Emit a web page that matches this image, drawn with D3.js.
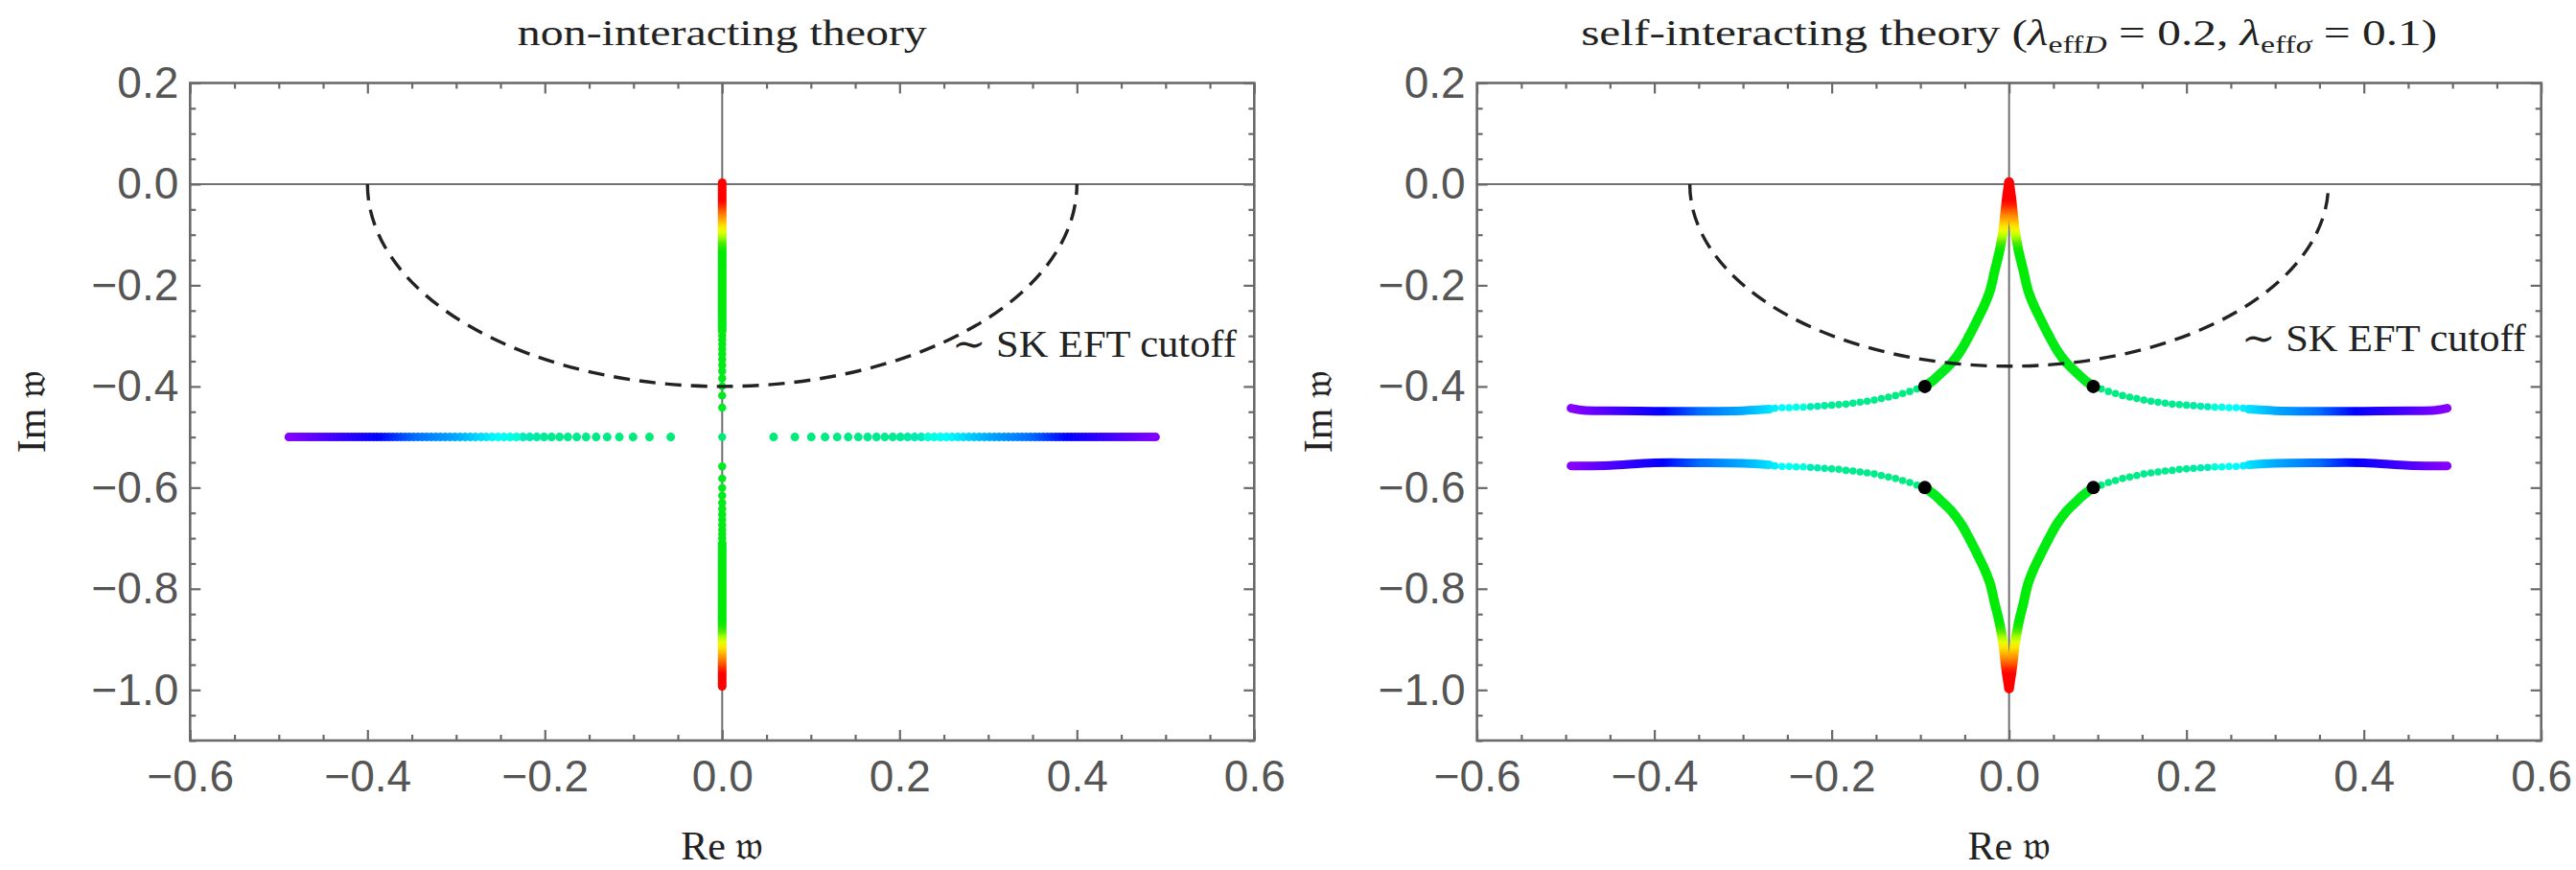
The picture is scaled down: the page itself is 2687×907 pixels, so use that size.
<!DOCTYPE html>
<html><head><meta charset="utf-8">
<script src="https://cdn.jsdelivr.net/npm/d3@7"></script>
<style>body{margin:0;background:#fff;} svg{display:block;}</style>
</head><body>
<svg id="chart" width="2687" height="907"></svg>
<script>
// ---------------- DATA ----------------
const xMajorTicks = [-0.6, -0.4, -0.2, 0.0, 0.2, 0.4, 0.6];
const yMajorTicks = [0.2, 0.0, -0.2, -0.4, -0.6, -0.8, -1.0];
const panelTitles = ["non-interacting theory", "self-interacting theory"];
const couplingValues = [0.2, 0.1];
const couplingSubscripts = ["D", "σ"];
const cutoffRadius = [0.40, 0.36];
const cutoffLabel = "∼ SK EFT cutoff";
const cutoffLabelRe = [0.259, 0.262];
const cutoffLabelIm = [-0.341, -0.33];

// non-interacting: modes on the line Im = -0.5 (Re >= 0 half, mirrored)
const freeRowIm = -0.5;
const freeRowRe = [0.058,0.082,0.1005,0.116,0.1297,0.1421,0.1535,0.1640,0.174,0.1834,0.1924,0.2009,0.2091,0.2170,0.2246,0.232,0.2391,0.2461,0.2528,0.2594,0.2658,0.2720,0.2782,0.2841,0.29,0.2957,0.3014,0.3069,0.3123,0.3177,0.3229,0.3281,0.3332,0.3382,0.3431,0.348,0.3528,0.3575,0.3622,0.3668,0.3714,0.3759,0.3803,0.3847,0.3891,0.3934,0.3976,0.4018,0.406,0.4101,0.4142,0.4182,0.4222,0.4262,0.4301,0.4340,0.4379,0.4417,0.4455,0.4493,0.4530,0.4567,0.4604,0.464,0.4676,0.4712,0.4748,0.4783,0.4818,0.4853,0.4887];
// non-interacting: purely imaginary modes (Re = 0)
const freeAxisDotsIm = [-0.2996,-0.308,-0.3165,-0.326,-0.336,-0.3465,-0.358,-0.370,-0.384,-0.3995,-0.418,-0.442,-0.5,-0.558,-0.582,-0.6005,-0.616,-0.630,-0.642,-0.6535,-0.664,-0.674,-0.6835,-0.692,-0.7004];
const freeAxisUpperIm = [0.003, -0.29];
const freeAxisLowerIm = [-0.71, -0.993];

// self-interacting: branches (Re >= 0 half, mirrored)
const siCuspRe = [0, 0.002, 0.004, 0.0065, 0.011, 0.016, 0.0214, 0.028, 0.036, 0.045, 0.054, 0.064, 0.075, 0.085, 0.095];
const siUpperCuspIm = [0.004, -0.02, -0.05, -0.09, -0.134, -0.17, -0.21, -0.24, -0.269, -0.30, -0.328, -0.352, -0.371, -0.387, -0.400];
const siLowerCuspIm = [-0.997, -0.975, -0.95, -0.91, -0.866, -0.83, -0.79, -0.76, -0.731, -0.70, -0.672, -0.648, -0.629, -0.613, -0.600];
const siTailDotRe = [0.104,0.112,0.120,0.128,0.136,0.144,0.152,0.160,0.168,0.176,0.184,0.192,0.200,0.208,0.216,0.224,0.232,0.240,0.248,0.256,0.264];
const siUpperTailDotIm = [-0.405,-0.410,-0.414,-0.418,-0.421,-0.424,-0.427,-0.429,-0.431,-0.433,-0.435,-0.436,-0.437,-0.438,-0.439,-0.440,-0.441,-0.441,-0.442,-0.442,-0.443];
const siLowerTailDotIm = [-0.595,-0.590,-0.586,-0.582,-0.579,-0.576,-0.573,-0.571,-0.569,-0.567,-0.566,-0.564,-0.563,-0.562,-0.561,-0.560,-0.559,-0.559,-0.558,-0.558,-0.557];
const siTailRe = [0.27, 0.30, 0.35, 0.40, 0.45, 0.48, 0.494];
const siUpperTailIm = [-0.445, -0.448, -0.449, -0.449, -0.448, -0.447, -0.443];
const siLowerTailIm = [-0.555, -0.552, -0.551, -0.551, -0.556, -0.557, -0.557];
// self-interacting: marked points
const siMarkRe = [-0.095, 0.095, -0.095, 0.095];
const siMarkIm = [-0.40, -0.40, -0.60, -0.60];

// ---------------- LAYOUT ----------------
const panelX = [[198.3, 1308.3], [1540.6, 2650.7]];
const plotTop = 86.5, plotBottom = 772;
const frameColor = "#6a6a6a";
const serif = "'Liberation Serif','DejaVu Serif',serif";
const sans = "'Liberation Sans',Arial,sans-serif";

const svg = d3.select("#chart");
svg.append("rect").attr("width", 2687).attr("height", 907).attr("fill", "#fff");
const defs = svg.append("defs");

const hueIm = d3.scaleLinear().domain([0, 0.06, 0.37, 0.41, 0.44, 0.465, 0.5]).range([150, 128, 120, 60, 30, 0, 0]).clamp(true);
const hueRe = d3.scaleLinear().domain([0, 0.06, 0.2, 0.25, 0.3, 0.35, 0.39, 0.45, 0.494]).range([150, 150, 158, 178, 200, 215, 240, 258, 272]).clamp(true);
const lightFor = h => (h > 90 && h < 170) ? 0.46 : 0.5;
const colIm = im => { const h = hueIm(Math.abs(im + 0.5)); return d3.hsl(h, 1, lightFor(h)).formatHex(); };
const colRe = re => { const h = hueRe(Math.abs(re)); return d3.hsl(h, 1, lightFor(h)).formatHex(); };

const y = d3.scaleLinear().domain([-1.1, 0.2]).range([plotBottom, plotTop]);

// gradient along Im
const gIm = defs.append("linearGradient").attr("id", "gIm").attr("gradientUnits", "userSpaceOnUse")
  .attr("x1", 0).attr("x2", 0).attr("y1", y(0.02)).attr("y2", y(-1.02));
d3.range(0, 101).forEach(i => {
  const im = 0.02 - i * 1.04 / 100;
  gIm.append("stop").attr("offset", i / 100).attr("stop-color", colIm(im));
});

function minorTicks(lo, hi) { return d3.range(Math.round(lo * 20), Math.round(hi * 20) + 1).map(v => v / 20); }
const fmt = d3.format(".1f");

function drawPanel(i) {
  const x = d3.scaleLinear().domain([-0.6, 0.6]).range(panelX[i]);
  const [L, R] = panelX[i];
  const g = svg.append("g");
  const line = d3.line().x(d => x(d[0])).y(d => y(d[1])).curve(d3.curveCatmullRom);

  // tail gradients per side
  [-1, 1].forEach(s => {
    const gr = defs.append("linearGradient").attr("id", `gRe${i}${s > 0 ? "p" : "m"}`).attr("gradientUnits", "userSpaceOnUse")
      .attr("x1", x(0)).attr("x2", x(s * 0.5)).attr("y1", 0).attr("y2", 0);
    d3.range(0, 51).forEach(k => gr.append("stop").attr("offset", k / 50).attr("stop-color", colRe(0.5 * k / 50)));
  });

  // zero lines
  g.append("line").attr("x1", x(0)).attr("x2", x(0)).attr("y1", plotTop).attr("y2", plotBottom)
    .attr("stroke", "#707070").attr("stroke-width", 2);
  g.append("line").attr("x1", L).attr("x2", R).attr("y1", y(0)).attr("y2", y(0))
    .attr("stroke", "#707070").attr("stroke-width", 2);

  const data = g.append("g");
  if (i === 0) {
    [freeAxisUpperIm, freeAxisLowerIm].forEach(seg => {
      data.append("path").attr("d", line(seg.map(v => [0, v]))).attr("fill", "none")
        .attr("stroke", "url(#gIm)").attr("stroke-width", 9).attr("stroke-linecap", "round");
    });
    data.selectAll(null).data(freeAxisDotsIm).join("circle")
      .attr("cx", x(0)).attr("cy", d => y(d)).attr("r", 4.2).attr("fill", d => colIm(d));
    [-1, 1].forEach(s => {
      data.selectAll(null).data(freeRowRe).join("circle")
        .attr("cx", d => x(s * d)).attr("cy", y(freeRowIm)).attr("r", 4.5).attr("fill", d => colRe(d));
    });
  } else {
    [-1, 1].forEach(s => {
      [siUpperCuspIm, siLowerCuspIm].forEach(ims => {
        data.append("path").attr("d", line(siCuspRe.map((r, k) => [s * r, ims[k]]))).attr("fill", "none")
          .attr("stroke", "url(#gIm)").attr("stroke-width", 10).attr("stroke-linecap", "round");
      });
      [siUpperTailDotIm, siLowerTailDotIm].forEach(ims => {
        data.selectAll(null).data(siTailDotRe).join("circle")
          .attr("cx", d => x(s * d)).attr("cy", (d, k) => y(ims[k])).attr("r", 3.8).attr("fill", d => colRe(d));
      });
      [siUpperTailIm, siLowerTailIm].forEach(ims => {
        data.append("path").attr("d", line(siTailRe.map((r, k) => [s * r, ims[k]]))).attr("fill", "none")
          .attr("stroke", `url(#gRe${i}${s > 0 ? "p" : "m"})`).attr("stroke-width", 9).attr("stroke-linecap", "round");
      });
    });
  }

  // cutoff semicircle (|w| = radius)
  const r = cutoffRadius[i];
  const rx = x(r) - x(0), ry = y(-r) - y(0);
  g.append("path").attr("d", `M${x(-r)},${y(0)} A${rx},${ry} 0 0 0 ${x(r)},${y(0)}`)
    .attr("fill", "none").attr("stroke", "#222").attr("stroke-width", 3.4).attr("stroke-dasharray", "17 10");
  g.append("text").attr("x", x(cutoffLabelRe[i])).attr("y", y(cutoffLabelIm[i]))
    .attr("font-family", serif).attr("font-size", 40).attr("fill", "#222")
    .attr("textLength", 297).attr("lengthAdjust", "spacingAndGlyphs").text(cutoffLabel);

  if (i === 1) {
    g.selectAll(null).data(siMarkRe).join("circle")
      .attr("cx", d => x(d)).attr("cy", (d, k) => y(siMarkIm[k])).attr("r", 7).attr("fill", "#000");
  }

  // frame
  g.append("rect").attr("x", L).attr("y", plotTop).attr("width", R - L).attr("height", plotBottom - plotTop)
    .attr("fill", "none").attr("stroke", frameColor).attr("stroke-width", 2.6);

  const minorX = minorTicks(-0.6, 0.6).filter(v => !xMajorTicks.some(m => Math.abs(m - v) < 1e-6));
  const minorY = minorTicks(-1.1, 0.2).filter(v => !yMajorTicks.some(m => Math.abs(m - v) < 1e-6));
  const styleAxis = sel => {
    sel.select(".domain").remove();
    sel.selectAll("line").attr("stroke", frameColor).attr("stroke-width", 2.2);
    sel.selectAll("text").attr("fill", "#555").attr("font-family", sans).attr("font-size", 46);
  };
  g.append("g").attr("transform", `translate(0,${plotBottom})`)
    .call(d3.axisBottom(x).tickValues(xMajorTicks).tickSize(-11).tickPadding(20).tickFormat(fmt)).call(styleAxis);
  g.append("g").attr("transform", `translate(0,${plotBottom})`)
    .call(d3.axisBottom(x).tickValues(minorX).tickSize(-6).tickFormat("")).call(styleAxis);
  g.append("g").attr("transform", `translate(0,${plotTop})`)
    .call(d3.axisTop(x).tickValues(xMajorTicks).tickSize(-11).tickFormat("")).call(styleAxis);
  g.append("g").attr("transform", `translate(0,${plotTop})`)
    .call(d3.axisTop(x).tickValues(minorX).tickSize(-6).tickFormat("")).call(styleAxis);
  g.append("g").attr("transform", `translate(${L},0)`)
    .call(d3.axisLeft(y).tickValues(yMajorTicks).tickSize(-11).tickPadding(12).tickFormat(fmt)).call(styleAxis);
  g.append("g").attr("transform", `translate(${L},0)`)
    .call(d3.axisLeft(y).tickValues(minorY).tickSize(-6).tickFormat("")).call(styleAxis);
  g.append("g").attr("transform", `translate(${R},0)`)
    .call(d3.axisRight(y).tickValues(yMajorTicks).tickSize(-11).tickFormat("")).call(styleAxis);
  g.append("g").attr("transform", `translate(${R},0)`)
    .call(d3.axisRight(y).tickValues(minorY).tickSize(-6).tickFormat("")).call(styleAxis);

  // axis labels
  const cx = (L + R) / 2, cy = (plotTop + plotBottom) / 2;
  g.append("text").attr("transform", `translate(${L - 166},${cy}) rotate(-90)`).attr("text-anchor", "middle")
    .attr("dy", "0.35em").attr("font-family", serif).attr("font-size", 42).attr("fill", "#222").text("Im 𝔴");
  g.append("text").attr("x", cx).attr("y", 896).attr("text-anchor", "middle")
    .attr("font-family", serif).attr("font-size", 42).attr("fill", "#222").text("Re 𝔴");

  // title
  const t = g.append("text").attr("x", cx).attr("y", 47).attr("text-anchor", "middle")
    .attr("font-family", serif).attr("font-size", 38).attr("fill", "#222");
  if (i === 0) {
    t.attr("textLength", 427).attr("lengthAdjust", "spacingAndGlyphs").text(panelTitles[0]);
  } else {
    t.attr("textLength", 893).attr("lengthAdjust", "spacingAndGlyphs");
    t.append("tspan").text(panelTitles[1] + " (");
    couplingValues.forEach((v, k) => {
      t.append("tspan").attr("font-style", "italic").text("λ");
      t.append("tspan").attr("font-size", 26).attr("dy", 8).text("eff");
      t.append("tspan").attr("font-size", 26).attr("font-style", "italic").text(couplingSubscripts[k]);
      t.append("tspan").attr("dy", -8).text(` = ${v}` + (k === 0 ? ",  " : ")"));
    });
  }
}
drawPanel(0);
drawPanel(1);
</script>
</body></html>
